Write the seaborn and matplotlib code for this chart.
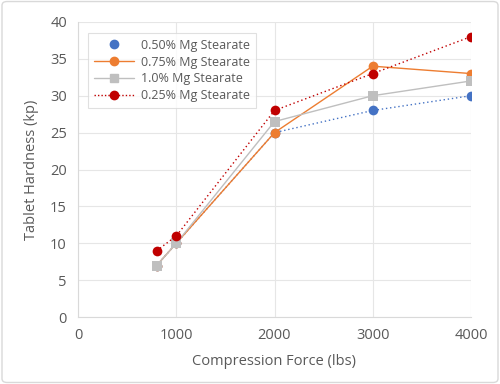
import pandas as pd
import matplotlib.pyplot as plt
import seaborn as sns
from matplotlib.lines import Line2D
from matplotlib.patches import FancyBboxPatch

# Data
force = [800, 1000, 2000, 3000, 4000]
mg_050 = [7, 10, 25, 28, 30]
mg_075 = [7, 10, 25, 34, 33]
mg_100 = [7, 10, 26.5, 30, 32]
mg_025 = [9, 11, 28, 33, 38]

labels = ["0.50% Mg Stearate", "0.75% Mg Stearate", "1.0% Mg Stearate", "0.25% Mg Stearate"]
colors = ["#4472C4", "#ED7D31", "#BFBFBF", "#C00000"]
markers = ["o", "o", "s", "o"]
styles = [(0, (1, 2)), "-", "-", (0, (1, 2))]

df = pd.DataFrame({
    "force": force * 4,
    "hardness": mg_050 + mg_075 + mg_100 + mg_025,
    "series": sum([[l] * len(force) for l in labels], []),
})

sns.set_style("white")
plt.rcParams["font.family"] = ["Open Sans", "DejaVu Sans"]
text_col = "#595959"

fig = plt.figure(figsize=(5.0, 3.84), dpi=100)
ax = fig.add_axes([0.156, 0.174, 0.786, 0.769])

for lab, col, mk, ls in zip(labels, colors, markers, styles):
    sub = df[df["series"] == lab]
    lw = 1.0
    sns.lineplot(data=sub, x="force", y="hardness", ax=ax, color=col, linestyle=ls,
                 linewidth=lw, marker=mk, markersize=7, markeredgewidth=0, legend=False)

ax.set_xlim(0, 4000)
ax.set_ylim(0, 40)
ax.set_xticks([0, 1000, 2000, 3000, 4000])
ax.set_yticks(range(0, 41, 5))
ax.grid(True, color="#E6E6E6", linewidth=0.8)
ax.set_axisbelow(True)
for s in ax.spines.values():
    s.set_visible(False)
ax.spines["left"].set_visible(True)
ax.spines["left"].set_color("#D9D9D9")
ax.spines["bottom"].set_visible(True)
ax.spines["bottom"].set_color("#D9D9D9")
ax.tick_params(length=0, labelsize=10.5, colors=text_col, pad=8)
ax.set_xlabel("Compression Force (lbs)", fontsize=10.5, color=text_col, labelpad=8)
ax.set_ylabel("Tablet Hardness (kp)", fontsize=10.5, color=text_col, labelpad=8)

handles = [
    Line2D([], [], color=colors[0], marker="o", linestyle="none", markersize=6),
    Line2D([], [], color=colors[1], marker="o", linestyle="-", linewidth=1, markersize=6),
    Line2D([], [], color=colors[2], marker="s", linestyle="-", linewidth=1, markersize=6),
    Line2D([], [], color=colors[3], marker="o", linestyle=(0, (1, 1.5)), linewidth=1, markersize=6),
]
leg = ax.legend(handles, labels, loc="upper left", bbox_to_anchor=(0.01, 0.985),
                fontsize=9, frameon=True, fancybox=False, handlelength=3.2,
                labelspacing=0.3, borderpad=0.5, handletextpad=0.5)
leg.get_frame().set_edgecolor("#D9D9D9")
leg.get_frame().set_linewidth(0.8)
for t in leg.get_texts():
    t.set_color(text_col)

fig.patches.append(FancyBboxPatch((0.004, 0.004), 0.992, 0.992, boxstyle="round,pad=0,rounding_size=0.01",
                                  transform=fig.transFigure, fill=False, edgecolor="#D9D9D9", linewidth=1))

fig.savefig("out.png", dpi=100)
